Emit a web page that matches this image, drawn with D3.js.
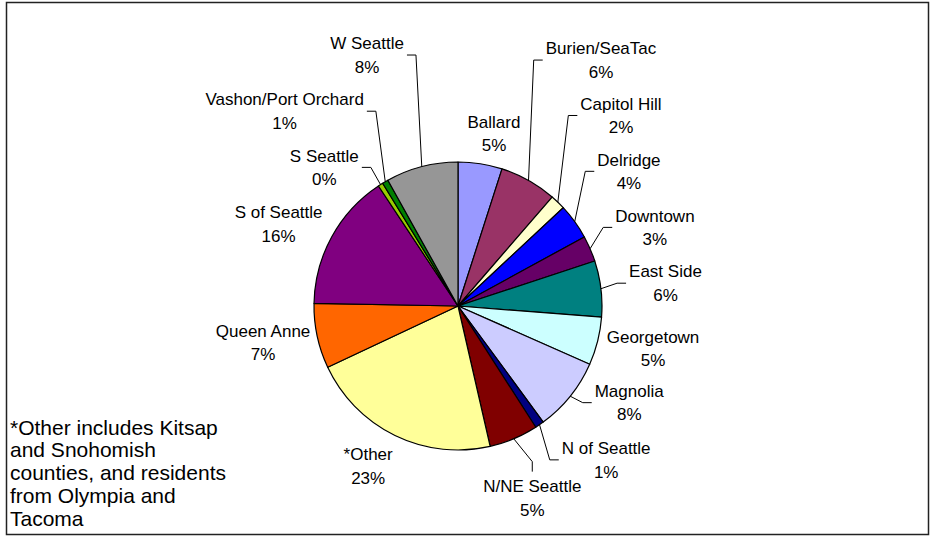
<!DOCTYPE html>
<html>
<head>
<meta charset="utf-8">
<script src="https://cdn.jsdelivr.net/npm/d3@7"></script>
<style>
  html, body { margin: 0; padding: 0; background: #fff; }
  svg text { font-family: Arial, "Liberation Sans", sans-serif; fill: #000; }
</style>
</head>
<body>
<script>
// ---- data ----
const categories = ["Ballard", "Burien/SeaTac", "Capitol Hill", "Delridge", "Downtown", "East Side",
  "Georgetown", "Magnolia", "N of Seattle", "N/NE Seattle", "*Other", "Queen Anne",
  "S of Seattle", "S Seattle", "Vashon/Port Orchard", "W Seattle"];
const values = [4.95, 6.4, 1.7, 4.0, 2.9, 6.3, 5.4, 8.3, 1.0, 5.5, 21.6, 7.3, 15.4, 0.55, 0.67, 8.1];
const pctLabels = ["5%", "6%", "2%", "4%", "3%", "6%", "5%", "8%", "1%", "5%", "23%", "7%", "16%", "0%", "1%", "8%"];
const colors = ["#9999FF", "#993366", "#FFFFCC", "#0000FF", "#660066", "#008080",
  "#CCFFFF", "#CCCCFF", "#000080", "#800000", "#FFFF99", "#FF6600",
  "#800080", "#99CC00", "#008000", "#969696"];
const footnote = ["*Other includes Kitsap", "and Snohomish", "counties, and residents", "from Olympia and", "Tacoma"];

// ---- layout ----
const W = 931, H = 537;
const cx = 458, cy = 306, r = 144, labelR = 184;
const fontSize = 17, lineGap = 23.5, noteFont = 21;
// label nudges from default outer position, and leader line style
const labelNudge = [[7.5, 9.3], [52.9, -85.5], [35.4, -57.9], [21.8, -26.9], [28.1, -5.4], [24.8, -0.7],
  [16.6, -2.6], [27.8, -18.6], [44, 2.2], [3, 22.3], [-9.3, -5.4], [-15, -1.8],
  [-18.1, 6.5], [-34.7, 16.5], [-80.4, -36], [-44.6, -72.9]];
const leaderType = ["", "right", "right", "right", "right", "right", "", "right", "right", "bottom", "", "",
  "", "left", "left", "left"];

const svg = d3.select("body").append("svg").attr("width", W).attr("height", H);

svg.append("rect").attr("x", 6.5).attr("y", 2.5).attr("width", 922).attr("height", 532)
  .attr("fill", "#fff").attr("stroke", "#222").attr("stroke-width", 1.5);

const arcs = d3.pie().sort(null).value(d => d)(values);
const arc = d3.arc().innerRadius(0).outerRadius(r);

const pieG = svg.append("g").attr("transform", `translate(${cx},${cy})`);
pieG.selectAll("path").data(arcs).join("path")
  .attr("d", arc)
  .attr("fill", (d, i) => colors[i])
  .attr("stroke", "#000").attr("stroke-width", 1.2).attr("stroke-linejoin", "round");

const labelG = svg.append("g");
arcs.forEach((a, i) => {
  const mid = (a.startAngle + a.endAngle) / 2;
  const lx = cx + labelR * Math.sin(mid) + labelNudge[i][0];
  const ly = cy - labelR * Math.cos(mid) + labelNudge[i][1];
  const t1 = labelG.append("text").attr("x", lx).attr("y", ly - lineGap / 2 + 6)
    .attr("text-anchor", "middle").attr("font-size", fontSize).text(categories[i]);
  const t2 = labelG.append("text").attr("x", lx).attr("y", ly + lineGap / 2 + 6)
    .attr("text-anchor", "middle").attr("font-size", fontSize).text(pctLabels[i]);
  const w = Math.max(t1.node().getComputedTextLength(), t2.node().getComputedTextLength());
  const px = cx + r * Math.sin(mid), py = cy - r * Math.cos(mid);
  let pts = null;
  if (leaderType[i] === "right") {
    const fx = lx - w / 2 - 3;
    pts = [[px, py], [fx - 9, ly], [fx, ly]];
  } else if (leaderType[i] === "left") {
    const fx = lx + w / 2 + 3;
    pts = [[px, py], [fx + 9, ly], [fx, ly]];
  } else if (leaderType[i] === "bottom") {
    pts = [[px, py], [lx, ly - 36.3], [lx, ly - 26.3]];
  }
  if (pts) {
    labelG.append("path").attr("d", d3.line()(pts))
      .attr("fill", "none").attr("stroke", "#000").attr("stroke-width", 1);
  }
});

svg.append("g").selectAll("text").data(footnote).join("text")
  .attr("x", 10).attr("y", (d, i) => 427 + i * 22.8 + 7.5)
  .attr("font-size", noteFont).text(d => d);
</script>
</body>
</html>
